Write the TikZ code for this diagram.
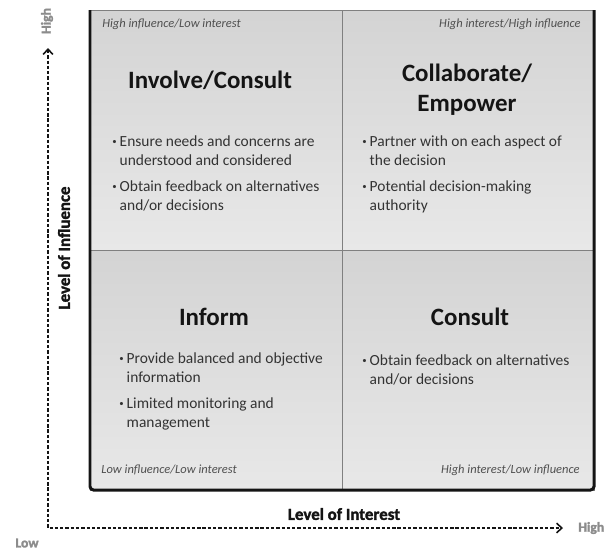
\documentclass[tikz,border=0pt]{standalone}
\usepackage{fontspec}
\setmainfont{Carlito}
\newfontfamily\heavyfont[FakeBold=1.8]{Carlito Bold}
\usetikzlibrary{arrows.meta,positioning}
\definecolor{ink}{HTML}{141414}
\definecolor{body}{HTML}{333333}
\definecolor{soft}{HTML}{505050}
\definecolor{rule}{HTML}{808080}
\newlength\bw \setlength\bw{4.2pt}
\newcommand\bl[2]{\makebox[\bw][l]{\raisebox{.25ex}{\fontsize{5}{5}\selectfont\textbullet}}#1\\\hspace*{\bw}#2}
\tikzset{>={Straight Barb[length=3pt,width=5.5pt]},
  quad/.style={draw=rule,line width=.4pt,top color=black!17,bottom color=black!9},
  title/.style={font=\fontsize{14.2}{17}\selectfont\bfseries,text=ink,align=center,inner sep=0pt},
  item/.style={font=\fontsize{8.8}{10.8}\selectfont,text=body,align=left,inner sep=0pt,anchor=north west},
  corner/.style={font=\fontsize{7.1}{8}\selectfont\itshape,text=soft,inner sep=0pt},
  axislabel/.style={font=\heavyfont\fontsize{9.6}{10}\selectfont,text=ink,inner sep=0pt},
  endlabel/.style={font=\heavyfont\fontsize{7.8}{8}\selectfont,text=black!45,inner sep=0pt},
  dashedarrow/.style={draw=ink,dash pattern=on 1.9pt off 1.1pt,line width=.9pt}}

\begin{document}
\begin{tikzpicture}[x=0.02cm,y=-0.02cm]
\useasboundingbox(0,0)rectangle(604,551);
% the four quadrants
\draw[quad](90,10)rectangle(342,250);\draw[quad](342,10)rectangle(594,250);
\draw[quad](90,250)rectangle(342,490);\draw[quad](342,250)rectangle(594,490);
% heavy frame on left, bottom and right
\draw[ink,line width=1.7pt,rounded corners=2pt](90,10)--(90,490)--(594,490)--(594,10);
% corner captions
\node[corner,anchor=west](tlc)at(102,24){High influence/Low interest};
\node[corner,anchor=east](trc)at(581,24){High interest/High influence};
\node[corner,anchor=west](blc)at(101,470){Low influence/Low interest};
\node[corner,anchor=east](brc)at(580,470){High interest/Low influence};
% quadrant titles
\node[title](tlt)at(210,80){Involve/Consult};
\node[title](trt)at(467,90){Collaborate/\\Empower};
\node[title](blt)at(214,317){Inform};
\node[title](brt)at(470,317){Consult};
% bullet lists
\node[item](tll)at(112,135){\bl{Ensure needs and concerns are}{understood and considered}\\[4pt]\bl{Obtain feedback on alternatives}{and/or decisions}};
\node[item](trl)at(362,135){\bl{Partner with on each aspect of}{the decision}\\[4pt]\bl{Potential decision-making}{authority}};
\node[item](bll)at(119,352){\bl{Provide balanced and objective}{information}\\[4pt]\bl{Limited monitoring and}{management}};
\node[item](brl)at(362,354){\bl{Obtain feedback on alternatives}{and/or decisions}};
% axes
\coordinate(origin)at(48,528);\coordinate(ytip)at(48,48);\coordinate(xtip)at(563,528);
\draw[dashedarrow,<->](ytip)--(origin)--(xtip);
\node[axislabel](xlab)at(344,514){Level of Interest};
\node[axislabel,rotate=90](ylab)at(64,248){Level of Influence};
\node[endlabel,rotate=90](yhigh)at(47,21){High};
\node[endlabel,anchor=west](xhigh)at(578,528){High};
\node[endlabel](low)at(27,543){Low};
\end{tikzpicture}
\end{document}
